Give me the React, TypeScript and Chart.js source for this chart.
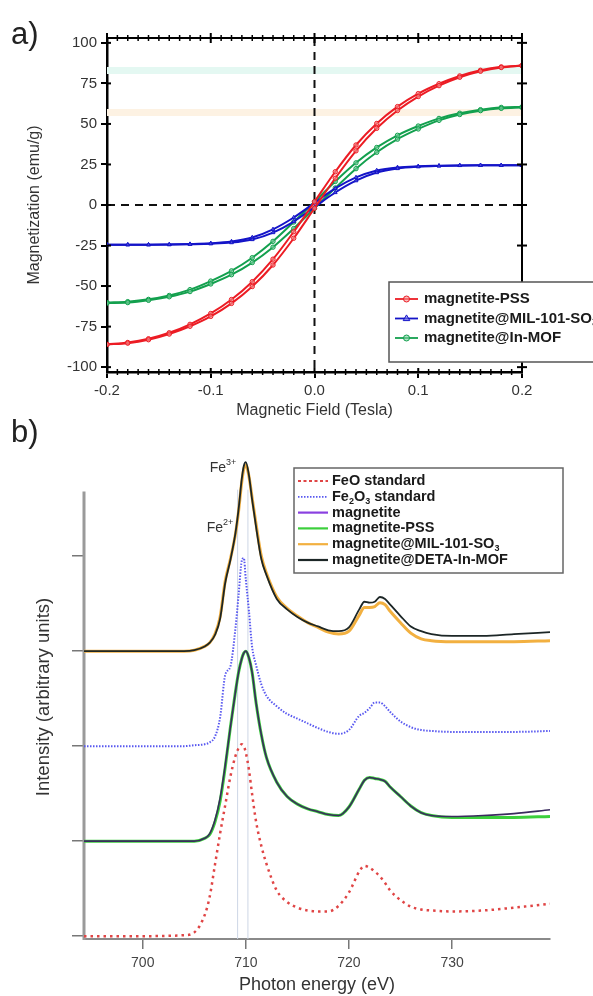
import React, { useEffect, useRef } from "react";
import { Chart, registerables } from "chart.js";

Chart.register(...registerables);

const FONT = "'Liberation Sans', Arial, Helvetica, sans-serif";

// ---------------- Panel a : hysteresis loops ----------------
const fieldTesla = [-0.2, -0.18, -0.16, -0.14, -0.12, -0.1, -0.08, -0.06, -0.04, -0.02, 0, 0.02, 0.04, 0.06, 0.08, 0.1, 0.12, 0.14, 0.16, 0.18, 0.2];

const pssUp = [-86, -85.2, -83.1, -79.6, -74.8, -68.7, -60.7, -50.3, -37, -20.5, -2, 16.5, 33.4, 47.3, 58.3, 66.9, 73.6, 78.8, 82.5, 84.8, 86];
const pssDown = [-86, -84.8, -82.5, -78.8, -73.6, -66.9, -58.3, -47.3, -33.4, -16.5, 2, 20.5, 37, 50.3, 60.7, 68.7, 74.8, 79.6, 83.1, 85.2, 86];

const milUp = [-24.5, -24.5, -24.5, -24.4, -24.2, -23.9, -23.2, -21.3, -17, -10.2, -1.3, 7.7, 15, 20, 22.5, 23.6, 24.1, 24.4, 24.5, 24.5, 24.5];
const milDown = [-24.5, -24.5, -24.5, -24.4, -24.1, -23.6, -22.5, -20, -15, -7.7, 1.3, 10.2, 17, 21.3, 23.2, 23.9, 24.2, 24.4, 24.5, 24.5, 24.5];

const inMofUp = [-60.5, -60.2, -58.8, -56.6, -53.4, -48.7, -43, -35.5, -26, -14.5, -2, 10.5, 22.4, 32.5, 40.6, 46.9, 52.2, 55.8, 58.2, 59.6, 60.2];
const inMofDown = [-60.2, -59.6, -58.2, -55.8, -52.2, -46.9, -40.6, -32.5, -22.4, -10.5, 2, 14.5, 26, 35.5, 43, 48.7, 53.4, 56.6, 58.8, 60.2, 60.5];

const seriesALabels = ["magnetite-PSS", "magnetite@MIL-101-SO_{3}", "magnetite@In-MOF"];
const fieldTicks = [-0.2, -0.1, 0, 0.1, 0.2];
const magTicks = [-100, -75, -50, -25, 0, 25, 50, 75, 100];
const ghostLevels = [83, 57];

// ---------------- Panel b : XAS spectra ----------------
const photonEnergy = [694.3, 700, 704, 705, 706, 706.5, 707, 707.5, 708, 708.5, 709, 709.3, 709.6, 709.8, 710, 710.3, 710.6, 711, 711.5, 712, 713, 714, 715, 716, 717, 718, 719, 720, 721, 721.5, 722, 722.5, 723, 723.5, 724, 725, 726, 727, 728, 730, 733, 736, 739.5];

const feoStandard = [0, 0, 0.01, 0.04, 0.22, 0.42, 0.75, 1.08, 1.38, 1.68, 1.9, 1.98, 2.02, 2.0, 1.93, 1.75, 1.5, 1.2, 0.95, 0.76, 0.48, 0.36, 0.3, 0.27, 0.26, 0.26, 0.32, 0.46, 0.68, 0.74, 0.72, 0.68, 0.63, 0.56, 0.48, 0.38, 0.31, 0.28, 0.27, 0.26, 0.27, 0.3, 0.34];
const fe2o3Standard = [2, 2, 2, 2.01, 2.02, 2.04, 2.1, 2.3, 2.75, 2.84, 3.25, 3.6, 3.95, 3.98, 3.75, 3.42, 3.05, 2.85, 2.65, 2.53, 2.42, 2.34, 2.29, 2.24, 2.19, 2.15, 2.13, 2.17, 2.32, 2.35, 2.4, 2.46, 2.46, 2.42, 2.36, 2.26, 2.2, 2.17, 2.16, 2.15, 2.15, 2.15, 2.16];
const magnetite = [1, 1, 1, 1, 1.03, 1.08, 1.22, 1.45, 1.8, 2.2, 2.58, 2.78, 2.92, 2.98, 3.0, 2.93, 2.78, 2.45, 2.12, 1.88, 1.62, 1.47, 1.39, 1.34, 1.31, 1.28, 1.27, 1.36, 1.55, 1.64, 1.67, 1.66, 1.65, 1.63, 1.57, 1.47, 1.37, 1.3, 1.27, 1.26, 1.27, 1.29, 1.33];
const magnetitePss = [1, 1, 1, 1, 1.03, 1.07, 1.2, 1.42, 1.78, 2.2, 2.58, 2.78, 2.92, 2.98, 3.0, 2.93, 2.78, 2.45, 2.12, 1.88, 1.62, 1.47, 1.39, 1.34, 1.31, 1.28, 1.27, 1.36, 1.55, 1.64, 1.67, 1.66, 1.65, 1.63, 1.57, 1.47, 1.37, 1.3, 1.27, 1.25, 1.25, 1.25, 1.26];
const magnetiteMil = [3, 3, 3, 3.01, 3.05, 3.09, 3.18, 3.36, 3.74, 3.97, 4.24, 4.48, 4.78, 4.92, 4.96, 4.84, 4.62, 4.33, 4.0, 3.82, 3.57, 3.45, 3.37, 3.3, 3.25, 3.2, 3.18, 3.21, 3.38, 3.46, 3.46, 3.47, 3.51, 3.49, 3.42, 3.3, 3.19, 3.13, 3.11, 3.1, 3.1, 3.1, 3.11];
const magnetiteDeta = [3, 3, 3, 3.01, 3.05, 3.09, 3.17, 3.34, 3.72, 3.96, 4.25, 4.5, 4.81, 4.95, 4.99, 4.85, 4.6, 4.3, 3.97, 3.8, 3.55, 3.44, 3.36, 3.3, 3.26, 3.22, 3.21, 3.25, 3.44, 3.52, 3.51, 3.52, 3.57, 3.55, 3.49, 3.37, 3.26, 3.21, 3.18, 3.16, 3.16, 3.18, 3.2];

const energyTicks = [700, 710, 720, 730];
const offsetTicks = [0, 1, 2, 3, 4];
const edgeMarkers = [709.2, 710.2];
const peakLabels = [
  { text: "Fe^{3+}", energy: 706.5, value: 4.93 },
  { text: "Fe^{2+}", energy: 706.2, value: 4.3 },
];

// ---------------- helpers ----------------
const toXY = (xs: number[], ys: number[]) => xs.map((x, i) => ({ x, y: ys[i] }));

type Part = { t: string; kind: "n" | "sub" | "sup" };
function parseRich(s: string): Part[] {
  const out: Part[] = [];
  const re = /(_|\^)\{([^}]*)\}/g;
  let last = 0;
  let m: RegExpExecArray | null;
  while ((m = re.exec(s))) {
    if (m.index > last) out.push({ t: s.slice(last, m.index), kind: "n" });
    out.push({ t: m[2], kind: m[1] === "_" ? "sub" : "sup" });
    last = re.lastIndex;
  }
  if (last < s.length) out.push({ t: s.slice(last), kind: "n" });
  return out;
}
function drawRich(ctx: CanvasRenderingContext2D, text: string, x: number, y: number, size: number, bold: boolean, color: string) {
  let cx = x;
  ctx.fillStyle = color;
  ctx.textBaseline = "middle";
  ctx.textAlign = "left";
  for (const p of parseRich(text)) {
    const s = p.kind === "n" ? size : Math.round(size * 0.65);
    ctx.font = `${bold ? "bold " : ""}${s}px ${FONT}`;
    const dy = p.kind === "sub" ? size * 0.3 : p.kind === "sup" ? -size * 0.35 : 0;
    ctx.fillText(p.t, cx, y + dy);
    cx += ctx.measureText(p.t).width;
  }
}
function seg(ctx: CanvasRenderingContext2D, x1: number, y1: number, x2: number, y2: number) {
  ctx.beginPath();
  ctx.moveTo(x1, y1);
  ctx.lineTo(x2, y2);
  ctx.stroke();
}
function marker(ctx: CanvasRenderingContext2D, style: string, x: number, y: number, r: number) {
  ctx.beginPath();
  if (style === "triangle") {
    ctx.moveTo(x, y - r * 1.2);
    ctx.lineTo(x + r * 1.1, y + r * 0.7);
    ctx.lineTo(x - r * 1.1, y + r * 0.7);
    ctx.closePath();
  } else {
    ctx.arc(x, y, r, 0, Math.PI * 2);
  }
  ctx.fill();
  ctx.stroke();
}

export default function App() {
  const refA = useRef<HTMLCanvasElement>(null);
  const refB = useRef<HTMLCanvasElement>(null);

  useEffect(() => {
    // ---------- chart a ----------
    const seriesA = [
      { label: seriesALabels[0], up: pssUp, down: pssDown, color: "#ec1c24", fill: "rgba(245,150,150,0.6)", style: "circle" },
      { label: seriesALabels[1], up: milUp, down: milDown, color: "#1414c8", fill: "rgba(120,120,232,0.6)", style: "triangle" },
      { label: seriesALabels[2], up: inMofUp, down: inMofDown, color: "#13a04e", fill: "rgba(130,210,165,0.6)", style: "circle" },
    ];
    const dsA: any[] = [];
    seriesA.forEach((s) => {
      [s.up, s.down].forEach((branch) => {
        dsA.push({
          label: s.label,
          data: toXY(fieldTesla, branch),
          borderColor: s.color,
          borderWidth: 2,
          pointStyle: s.style,
          pointRadius: 2.2,
          pointBorderWidth: 1,
          pointBorderColor: s.color,
          pointBackgroundColor: s.fill,
          cubicInterpolationMode: "monotone",
          fill: false,
        });
      });
    });

    const decorA = {
      id: "decorA",
      beforeDatasetsDraw(chart: any) {
        const { ctx, chartArea: ca, scales } = chart;
        const x = scales.x, y = scales.y;
        ctx.save();
        const ghostColors = ["#e4f8f2", "#fdf2e3"];
        ghostLevels.forEach((v, i) => {
          ctx.strokeStyle = ghostColors[i];
          ctx.lineWidth = 7;
          const py = y.getPixelForValue(v);
          seg(ctx, ca.left, py, ca.right, py);
        });
        ctx.strokeStyle = "#111";
        ctx.lineWidth = 2;
        ctx.setLineDash([8, 6]);
        const x0 = x.getPixelForValue(0);
        const y0 = y.getPixelForValue(0);
        seg(ctx, x0, ca.top, x0, ca.bottom);
        seg(ctx, ca.left, y0, ca.right, y0);
        ctx.restore();
      },
      afterDraw(chart: any) {
        const { ctx, chartArea: ca, scales } = chart;
        const x = scales.x, y = scales.y;
        ctx.save();
        ctx.strokeStyle = "#000";
        ctx.lineWidth = 2;
        seg(ctx, ca.left - 1, ca.top, ca.right + 1, ca.top);
        seg(ctx, ca.right, ca.top, ca.right, ca.bottom);
        fieldTicks.forEach((v) => {
          const px = x.getPixelForValue(v);
          seg(ctx, px, ca.top - 5, px, ca.top + 5);
          seg(ctx, px, ca.bottom, px, ca.bottom - 4);
        });
        magTicks.forEach((v) => {
          const py = y.getPixelForValue(v);
          seg(ctx, ca.left, py, ca.left + 4, py);
          seg(ctx, ca.right - 5, py, ca.right + 5, py);
        });
        ctx.lineWidth = 1.5;
        for (let k = -20; k <= 20; k++) {
          if (k % 10 === 0) continue;
          const px = x.getPixelForValue(k / 100);
          seg(ctx, px, ca.top - 3, px, ca.top + 3);
          seg(ctx, px, ca.bottom - 3, px, ca.bottom + 3);
        }
        // legend
        const lx = 389, ly = 282, lw = 240, lh = 80;
        ctx.fillStyle = "#fff";
        ctx.fillRect(lx, ly, lw, lh);
        ctx.strokeStyle = "#555";
        ctx.lineWidth = 1.5;
        ctx.strokeRect(lx, ly, lw, lh);
        seriesA.forEach((s, i) => {
          const ry = 299 + i * 19.5;
          ctx.strokeStyle = s.color;
          ctx.lineWidth = 1.8;
          seg(ctx, 395, ry, 418, ry);
          ctx.fillStyle = s.fill;
          ctx.lineWidth = 1;
          marker(ctx, s.style, 406.5, ry, 3);
          drawRich(ctx, s.label, 424, ry, 15, true, "#1a1a1a");
        });
        ctx.font = `31px ${FONT}`;
        ctx.fillStyle = "#222";
        ctx.textAlign = "left";
        ctx.textBaseline = "alphabetic";
        ctx.fillText("a)", 11, 44);
        ctx.restore();
      },
    };

    const chartA = new Chart(refA.current as HTMLCanvasElement, {
      type: "line",
      data: { datasets: dsA },
      plugins: [decorA],
      options: {
        responsive: false,
        animation: false,
        layout: { padding: { top: 38, right: 71, left: 0, bottom: 0 } },
        plugins: { legend: { display: false }, tooltip: { enabled: false } },
        scales: {
          x: {
            type: "linear",
            min: -0.2,
            max: 0.2,
            afterBuildTicks: (s: any) => { s.ticks = fieldTicks.map((v) => ({ value: v })); },
            afterFit: (s: any) => { s.height = 48; },
            ticks: {
              callback: (v: any) => Number(v).toFixed(1),
              color: "#333",
              font: { family: FONT, size: 15 },
              padding: 4,
              maxRotation: 0,
            },
            grid: { drawOnChartArea: false, drawTicks: true, tickLength: 6, color: "#000", lineWidth: 2 },
            border: { display: true, color: "#000", width: 2.5 },
            title: { display: true, text: "Magnetic Field (Tesla)", color: "#333", font: { family: FONT, size: 16 }, padding: { top: 0, bottom: 0 } },
          },
          y: {
            type: "linear",
            min: -103,
            max: 103,
            afterBuildTicks: (s: any) => { s.ticks = magTicks.map((v) => ({ value: v })); },
            afterFit: (s: any) => { s.width = 107; },
            ticks: { callback: (v: any) => String(v), color: "#333", font: { family: FONT, size: 15 }, padding: 4 },
            grid: { drawOnChartArea: false, drawTicks: true, tickLength: 6, color: "#000", lineWidth: 2 },
            border: { display: true, color: "#000", width: 2.5 },
            title: { display: true, text: "Magnetization (emu/g)", color: "#333", font: { family: FONT, size: 16 }, padding: { top: 25, bottom: 0 } },
          },
        },
      } as any,
    });

    // ---------- chart b ----------
    const lineDs = (label: string, ys: number[], color: string, width: number, dash: number[], rank: number) => ({
      label,
      data: toXY(photonEnergy, ys),
      borderColor: color,
      borderWidth: width,
      borderDash: dash,
      pointRadius: 0,
      cubicInterpolationMode: "monotone",
      fill: false,
      legendRank: rank,
    });
    const dsB: any[] = [
      lineDs("magnetite", magnetite, "#3a2a5e", 1.6, [], 2),
      lineDs("magnetite@DETA-In-MOF", magnetiteDeta, "#1c2626", 1.8, [], 5),
      lineDs("magnetite-PSS", magnetitePss, "#3ccf3c", 3, [], 3),
      lineDs("magnetite@MIL-101-SO_{3}", magnetiteMil, "#f2b040", 3, [], 4),
      lineDs("Fe_{2}O_{3} standard", fe2o3Standard, "#5858f0", 2, [1.5, 1.5], 1),
      lineDs("FeO standard", feoStandard, "#e04545", 2.5, [2.5, 4], 0),
    ];
    const legendSample: Record<number, any> = {
      0: { color: "#e04545", dash: [3, 2.5], width: 1.8 },
      1: { color: "#5858f0", dash: [1.5, 1.5], width: 1.8 },
      2: { color: "#8a40e0", dash: [], width: 2.2 },
      3: { color: "#3ccf3c", dash: [], width: 2.2 },
      4: { color: "#f2b040", dash: [], width: 2.2 },
      5: { color: "#1c2626", dash: [], width: 2.2 },
    };

    const decorB = {
      id: "decorB",
      beforeDatasetsDraw(chart: any) {
        const { ctx, chartArea: ca, scales } = chart;
        const x = scales.x, y = scales.y;
        ctx.save();
        ctx.strokeStyle = "#cdd6e6";
        ctx.lineWidth = 1;
        edgeMarkers.forEach((e) => {
          const px = x.getPixelForValue(e);
          seg(ctx, px, y.getPixelForValue(4.7), px, ca.bottom);
        });
        ctx.strokeStyle = "#9a9a9a";
        ctx.lineWidth = 3;
        seg(ctx, ca.left, y.getPixelForValue(4.68), ca.left, ca.bottom + 1);
        ctx.restore();
      },
      afterDraw(chart: any) {
        const { ctx, scales } = chart;
        const x = scales.x, y = scales.y;
        ctx.save();
        const lx = 294, ly = 63, lw = 269, lh = 105;
        ctx.fillStyle = "#fff";
        ctx.fillRect(lx, ly, lw, lh);
        ctx.strokeStyle = "#666";
        ctx.lineWidth = 1.5;
        ctx.strokeRect(lx, ly, lw, lh);
        const items = [...chart.data.datasets].sort((a: any, b: any) => a.legendRank - b.legendRank);
        items.forEach((d: any, i: number) => {
          const ry = 76 + i * 15.8;
          const st = legendSample[d.legendRank];
          ctx.strokeStyle = st.color;
          ctx.lineWidth = st.width;
          ctx.setLineDash(st.dash);
          seg(ctx, 298, ry, 328, ry);
          ctx.setLineDash([]);
          drawRich(ctx, d.label, 332, ry, 14.5, true, "#1a1a1a");
        });
        peakLabels.forEach((p) => {
          const px = x.getPixelForValue(p.energy);
          const py = y.getPixelForValue(p.value);
          drawRich(ctx, p.text, px, py, 14, false, "#333");
        });
        ctx.font = `31px ${FONT}`;
        ctx.fillStyle = "#222";
        ctx.textAlign = "left";
        ctx.textBaseline = "alphabetic";
        ctx.fillText("b)", 11, 37);
        ctx.restore();
      },
    };

    const chartB = new Chart(refB.current as HTMLCanvasElement, {
      type: "line",
      data: { datasets: dsB },
      plugins: [decorB],
      options: {
        responsive: false,
        animation: false,
        layout: { padding: { top: 50, right: 43, left: 0, bottom: 0 } },
        plugins: { legend: { display: false }, tooltip: { enabled: false } },
        scales: {
          x: {
            type: "linear",
            min: 694.3,
            max: 739.5,
            afterBuildTicks: (s: any) => { s.ticks = energyTicks.map((v) => ({ value: v })); },
            afterFit: (s: any) => { s.height = 57; },
            ticks: { callback: (v: any) => String(v), color: "#444", font: { family: FONT, size: 14 }, padding: 6, maxRotation: 0 },
            grid: { drawOnChartArea: false, drawTicks: true, tickLength: 10, color: "#777", lineWidth: 1.5 },
            border: { display: true, color: "#8a8a8a", width: 2 },
            title: { display: true, text: "Photon energy (eV)", color: "#333", font: { family: FONT, size: 18 }, padding: { top: 0, bottom: 0 } },
          },
          y: {
            type: "linear",
            min: -0.03,
            max: 5.065,
            afterBuildTicks: (s: any) => { s.ticks = offsetTicks.map((v) => ({ value: v })); },
            afterFit: (s: any) => { s.width = 84; },
            ticks: { callback: () => "", padding: 0 },
            grid: { drawOnChartArea: false, drawTicks: true, tickLength: 12, color: "#777", lineWidth: 1.5 },
            border: { display: false },
            title: { display: true, text: "Intensity (arbitrary units)", color: "#333", font: { family: FONT, size: 18.5 }, padding: { top: 33, bottom: 0 } },
          },
        },
      } as any,
    });

    return () => {
      chartA.destroy();
      chartB.destroy();
    };
  }, []);

  return (
    <div style={{ position: "absolute", left: 0, top: 0, width: 593, height: 996, background: "#fff", overflow: "hidden" }}>
      <canvas ref={refA} width={593} height={420} style={{ position: "absolute", left: 0, top: 0 }} />
      <canvas ref={refB} width={593} height={591} style={{ position: "absolute", left: 0, top: 405 }} />
    </div>
  );
}
